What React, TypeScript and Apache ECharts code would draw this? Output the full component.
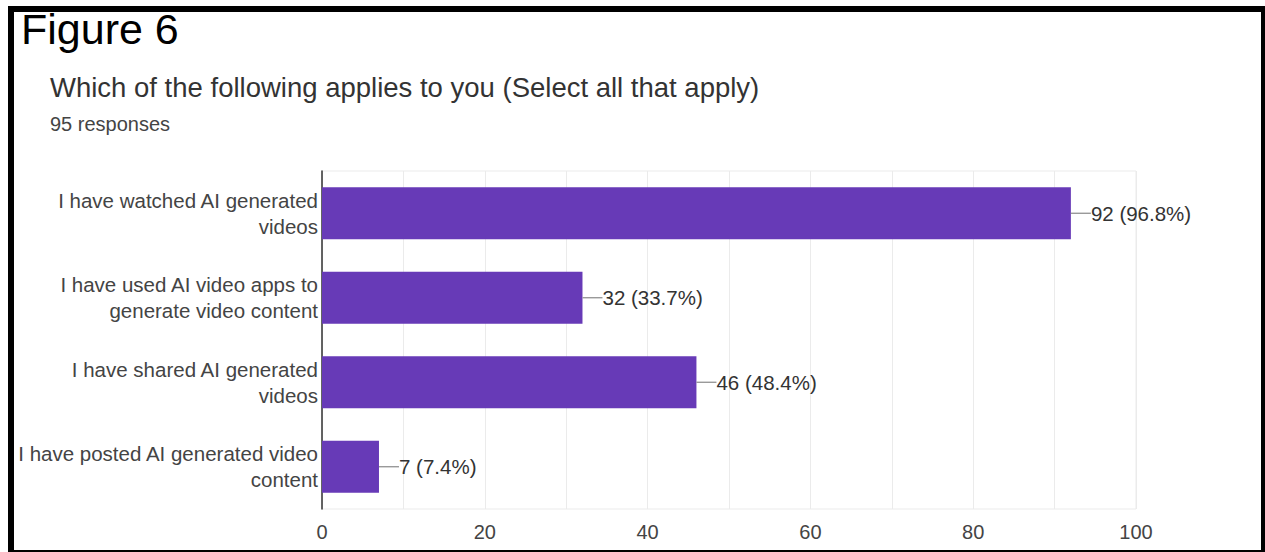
import React, { useEffect, useRef } from "react";
import * as echarts from "echarts";

const categories = [
  "I have watched AI generated\nvideos",
  "I have used AI video apps to\ngenerate video content",
  "I have shared AI generated\nvideos",
  "I have posted AI generated video\ncontent",
];
const counts = [92, 32, 46, 7];
const percents = ["96.8%", "33.7%", "48.4%", "7.4%"];
const xTicks = [0, 20, 40, 60, 80, 100];

const FONT = "'Liberation Sans', Arial, sans-serif";

export default function App() {
  const ref = useRef<HTMLDivElement>(null);
  useEffect(() => {
    if (!ref.current) return;
    const chart = echarts.init(ref.current, undefined, { renderer: "svg" });
    chart.setOption({
      animation: false,
      backgroundColor: "#ffffff",
      textStyle: { fontFamily: FONT },
      title: [
        {
          text: "Figure 6",
          left: 16,
          top: 2,
          textStyle: { fontSize: 43, fontWeight: "normal", color: "#000000", fontFamily: FONT },
        },
        {
          text: "Which of the following applies to you (Select all that apply)",
          left: 45,
          top: 68,
          textStyle: { fontSize: 27.5, fontWeight: "normal", color: "#333333", fontFamily: FONT },
        },
        {
          text: "95 responses",
          left: 45,
          top: 109,
          textStyle: { fontSize: 20, fontWeight: "normal", color: "#444444", fontFamily: FONT },
        },
      ],
      graphic: [
        {
          type: "rect",
          shape: { x: 11, y: 9, width: 1253, height: 544 },
          style: { fill: "none", stroke: "#000000", lineWidth: 6 },
          silent: true,
          z: 100,
        },
      ],
      grid: {
        left: 322,
        right: 129,
        top: 171,
        bottom: 43,
        show: true,
        borderColor: "#ebebeb",
        borderWidth: 1,
      },
      xAxis: {
        type: "value",
        min: 0,
        max: 100,
        interval: 10,
        axisLine: { show: false },
        axisTick: { show: false },
        splitLine: { show: true, lineStyle: { color: "#ebebeb", width: 1 } },
        axisLabel: {
          fontSize: 20,
          color: "#444444",
          margin: 13,
          fontFamily: FONT,
          formatter: (v: number) => (xTicks.includes(v) ? String(v) : ""),
        },
      },
      yAxis: {
        type: "category",
        data: categories,
        inverse: true,
        axisTick: { show: false },
        axisLine: { show: true, lineStyle: { color: "#333333", width: 1.5 } },
        splitLine: { show: false },
        axisLabel: {
          fontSize: 20.5,
          lineHeight: 26,
          color: "#444444",
          margin: 4,
          align: "right",
          fontFamily: FONT,
        },
      },
      series: [
        {
          type: "bar",
          data: counts,
          barWidth: 52,
          itemStyle: { color: "#673ab7" },
          z: 2,
        },
        {
          type: "custom",
          data: counts.map((c, i) => [c, i]),
          encode: { x: 0, y: 1 },
          z: 3,
          renderItem: (params: any, api: any) => {
            const v = api.value(0);
            const idx = api.value(1);
            const p = api.coord([v, idx]);
            return {
              type: "group",
              children: [
                {
                  type: "line",
                  shape: { x1: p[0], y1: p[1], x2: p[0] + 20, y2: p[1] },
                  style: { stroke: "#888888", lineWidth: 1.2 },
                },
                {
                  type: "text",
                  x: p[0] + 20,
                  y: p[1],
                  style: {
                    text: `${counts[idx]} (${percents[idx]})`,
                    fontSize: 20.5,
                    fontFamily: FONT,
                    fill: "#333333",
                    verticalAlign: "middle",
                    align: "left",
                  },
                },
              ],
            };
          },
        },
      ],
    });
    return () => chart.dispose();
  }, []);
  return (
    <div
      ref={ref}
      style={{ position: "fixed", left: 0, top: 0, width: 1265, height: 552 }}
    />
  );
}
